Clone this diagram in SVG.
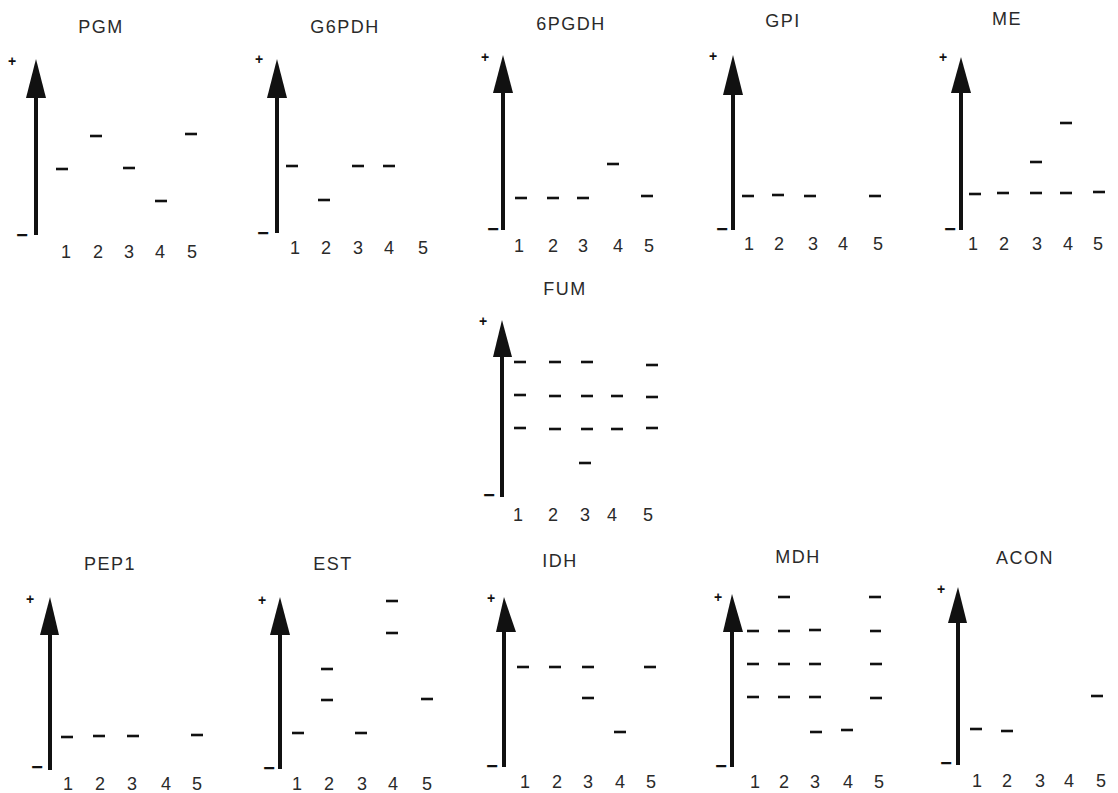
<svg xmlns="http://www.w3.org/2000/svg" width="1118" height="793" viewBox="0 0 1118 793">
<style>
.t{font-family:"Liberation Sans",Arial,sans-serif;font-size:18px;fill:#2a2a2a;text-anchor:middle;letter-spacing:1.5px}
.n{font-family:"Liberation Sans",Arial,sans-serif;font-size:18px;fill:#2a2a2a;text-anchor:middle}
.p{font-family:"Liberation Sans",Arial,sans-serif;font-size:14px;font-weight:bold;fill:#111;text-anchor:middle}
.m{font-family:"Liberation Sans",Arial,sans-serif;font-size:20px;font-weight:bold;fill:#111;text-anchor:middle}
.s{stroke:#111;stroke-width:4;fill:none}
.h{fill:#111}
.b{stroke:#111;stroke-width:2.6}
</style>
<rect width="1118" height="793" fill="#fff"/>

<g id="PGM">
<text class="t" x="101" y="33">PGM</text>
<line class="s" x1="36" y1="235" x2="36" y2="95"/>
<polygon class="h" points="36,59 26,98 46,98"/>
<text class="p" x="12" y="66">+</text>
<text class="m" x="22" y="242">−</text>
<text class="n" x="66" y="258">1</text><text class="n" x="98" y="258">2</text><text class="n" x="129" y="258">3</text><text class="n" x="160" y="258">4</text><text class="n" x="192" y="258">5</text>
<line class="b" x1="56" y1="169" x2="68" y2="169"/>
<line class="b" x1="90" y1="136" x2="102" y2="136"/>
<line class="b" x1="123" y1="168" x2="135" y2="168"/>
<line class="b" x1="155" y1="201" x2="167" y2="201"/>
<line class="b" x1="185" y1="134" x2="197" y2="134"/>
</g>

<g id="G6PDH">
<text class="t" x="345" y="33">G6PDH</text>
<line class="s" x1="277" y1="233" x2="277" y2="95"/>
<polygon class="h" points="277,59 267,98 287,98"/>
<text class="p" x="259" y="64">+</text>
<text class="m" x="263" y="240">−</text>
<text class="n" x="295" y="254">1</text><text class="n" x="326" y="254">2</text><text class="n" x="358" y="254">3</text><text class="n" x="389" y="254">4</text><text class="n" x="423" y="254">5</text>
<line class="b" x1="286" y1="166" x2="298" y2="166"/>
<line class="b" x1="318" y1="200" x2="330" y2="200"/>
<line class="b" x1="352" y1="166" x2="364" y2="166"/>
<line class="b" x1="383" y1="166" x2="395" y2="166"/>
</g>

<g id="6PGDH">
<text class="t" x="571" y="30">6PGDH</text>
<line class="s" x1="503" y1="230" x2="503" y2="90"/>
<polygon class="h" points="503,55 493,93 513,93"/>
<text class="p" x="485" y="62">+</text>
<text class="m" x="493" y="236">−</text>
<text class="n" x="519" y="252">1</text><text class="n" x="553" y="252">2</text><text class="n" x="583" y="252">3</text><text class="n" x="618" y="252">4</text><text class="n" x="649" y="252">5</text>
<line class="b" x1="515" y1="198" x2="527" y2="198"/>
<line class="b" x1="547" y1="198" x2="559" y2="198"/>
<line class="b" x1="577" y1="198" x2="589" y2="198"/>
<line class="b" x1="607" y1="164" x2="619" y2="164"/>
<line class="b" x1="641" y1="196" x2="653" y2="196"/>
</g>

<g id="GPI">
<text class="t" x="783" y="27">GPI</text>
<line class="s" x1="733" y1="230" x2="733" y2="92"/>
<polygon class="h" points="733,55 723,95 743,95"/>
<text class="p" x="713" y="61">+</text>
<text class="m" x="722" y="236">−</text>
<text class="n" x="749" y="250">1</text><text class="n" x="779" y="250">2</text><text class="n" x="813" y="250">3</text><text class="n" x="843" y="250">4</text><text class="n" x="878" y="250">5</text>
<line class="b" x1="742" y1="196" x2="754" y2="196"/>
<line class="b" x1="772" y1="195" x2="784" y2="195"/>
<line class="b" x1="804" y1="196" x2="816" y2="196"/>
<line class="b" x1="869" y1="196" x2="881" y2="196"/>
</g>

<g id="ME">
<text class="t" x="1007" y="25">ME</text>
<line class="s" x1="961" y1="230" x2="961" y2="90"/>
<polygon class="h" points="961,57 951,93 971,93"/>
<text class="p" x="943" y="62">+</text>
<text class="m" x="950" y="236">−</text>
<text class="n" x="973" y="250">1</text><text class="n" x="1004" y="250">2</text><text class="n" x="1037" y="250">3</text><text class="n" x="1068" y="250">4</text><text class="n" x="1098" y="250">5</text>
<line class="b" x1="969" y1="194" x2="981" y2="194"/>
<line class="b" x1="997" y1="193" x2="1009" y2="193"/>
<line class="b" x1="1030" y1="193" x2="1042" y2="193"/>
<line class="b" x1="1060" y1="193" x2="1072" y2="193"/>
<line class="b" x1="1093" y1="192" x2="1105" y2="192"/>
<line class="b" x1="1030" y1="162" x2="1042" y2="162"/>
<line class="b" x1="1060" y1="123" x2="1072" y2="123"/>
</g>

<g id="FUM">
<text class="t" x="565" y="295">FUM</text>
<line class="s" x1="502" y1="497" x2="502" y2="354"/>
<polygon class="h" points="502,320 493,357 512,357"/>
<text class="p" x="483" y="326">+</text>
<text class="m" x="489" y="502">−</text>
<text class="n" x="518" y="521">1</text><text class="n" x="553" y="521">2</text><text class="n" x="585" y="521">3</text><text class="n" x="612" y="521">4</text><text class="n" x="648" y="521">5</text>
<line class="b" x1="514" y1="362" x2="526" y2="362"/>
<line class="b" x1="549" y1="362" x2="561" y2="362"/>
<line class="b" x1="581" y1="362" x2="593" y2="362"/>
<line class="b" x1="646" y1="365" x2="658" y2="365"/>
<line class="b" x1="514" y1="395" x2="526" y2="395"/>
<line class="b" x1="549" y1="396" x2="561" y2="396"/>
<line class="b" x1="581" y1="396" x2="593" y2="396"/>
<line class="b" x1="611" y1="396" x2="623" y2="396"/>
<line class="b" x1="646" y1="397" x2="658" y2="397"/>
<line class="b" x1="514" y1="428" x2="526" y2="428"/>
<line class="b" x1="549" y1="429" x2="561" y2="429"/>
<line class="b" x1="581" y1="429" x2="593" y2="429"/>
<line class="b" x1="611" y1="429" x2="623" y2="429"/>
<line class="b" x1="646" y1="428" x2="658" y2="428"/>
<line class="b" x1="579" y1="463" x2="591" y2="463"/>
</g>

<g id="PEP1">
<text class="t" x="110" y="570">PEP1</text>
<line class="s" x1="50" y1="770" x2="50" y2="632"/>
<polygon class="h" points="50,597 40,635 59,635"/>
<text class="p" x="30" y="604">+</text>
<text class="m" x="37" y="774">−</text>
<text class="n" x="68" y="790">1</text><text class="n" x="100" y="790">2</text><text class="n" x="132" y="790">3</text><text class="n" x="166" y="790">4</text><text class="n" x="197" y="790">5</text>
<line class="b" x1="61" y1="737" x2="73" y2="737"/>
<line class="b" x1="93" y1="736" x2="105" y2="736"/>
<line class="b" x1="127" y1="736" x2="139" y2="736"/>
<line class="b" x1="191" y1="735" x2="203" y2="735"/>
</g>

<g id="EST">
<text class="t" x="333" y="570">EST</text>
<line class="s" x1="280" y1="769" x2="280" y2="632"/>
<polygon class="h" points="280,597 270,635 290,635"/>
<text class="p" x="262" y="605">+</text>
<text class="m" x="269" y="775">−</text>
<text class="n" x="297" y="790">1</text><text class="n" x="329" y="790">2</text><text class="n" x="362" y="790">3</text><text class="n" x="393" y="790">4</text><text class="n" x="427" y="790">5</text>
<line class="b" x1="292" y1="733" x2="304" y2="733"/>
<line class="b" x1="321" y1="669" x2="333" y2="669"/>
<line class="b" x1="321" y1="700" x2="333" y2="700"/>
<line class="b" x1="355" y1="733" x2="367" y2="733"/>
<line class="b" x1="386" y1="601" x2="398" y2="601"/>
<line class="b" x1="386" y1="633" x2="398" y2="633"/>
<line class="b" x1="421" y1="699" x2="433" y2="699"/>
</g>

<g id="IDH">
<text class="t" x="560" y="567">IDH</text>
<line class="s" x1="504" y1="767" x2="504" y2="629"/>
<polygon class="h" points="504,597 496,632 516,632"/>
<text class="p" x="491" y="603">+</text>
<text class="m" x="492" y="773">−</text>
<text class="n" x="525" y="788">1</text><text class="n" x="557" y="788">2</text><text class="n" x="588" y="788">3</text><text class="n" x="620" y="788">4</text><text class="n" x="651" y="788">5</text>
<line class="b" x1="517" y1="667" x2="529" y2="667"/>
<line class="b" x1="549" y1="667" x2="561" y2="667"/>
<line class="b" x1="582" y1="667" x2="594" y2="667"/>
<line class="b" x1="644" y1="667" x2="656" y2="667"/>
<line class="b" x1="582" y1="698" x2="594" y2="698"/>
<line class="b" x1="614" y1="732" x2="626" y2="732"/>
</g>

<g id="MDH">
<text class="t" x="798" y="563">MDH</text>
<line class="s" x1="732" y1="767" x2="732" y2="629"/>
<polygon class="h" points="732,594 723,632 743,632"/>
<text class="p" x="718" y="602">+</text>
<text class="m" x="721" y="773">−</text>
<text class="n" x="755" y="788">1</text><text class="n" x="784" y="788">2</text><text class="n" x="815" y="788">3</text><text class="n" x="848" y="788">4</text><text class="n" x="879" y="788">5</text>
<line class="b" x1="747" y1="631" x2="759" y2="631"/>
<line class="b" x1="747" y1="664" x2="759" y2="664"/>
<line class="b" x1="747" y1="697" x2="759" y2="697"/>
<line class="b" x1="778" y1="597" x2="790" y2="597"/>
<line class="b" x1="778" y1="631" x2="790" y2="631"/>
<line class="b" x1="778" y1="664" x2="790" y2="664"/>
<line class="b" x1="778" y1="697" x2="790" y2="697"/>
<line class="b" x1="809" y1="630" x2="821" y2="630"/>
<line class="b" x1="809" y1="664" x2="821" y2="664"/>
<line class="b" x1="809" y1="697" x2="821" y2="697"/>
<line class="b" x1="810" y1="732" x2="822" y2="732"/>
<line class="b" x1="841" y1="730" x2="853" y2="730"/>
<line class="b" x1="869" y1="597" x2="881" y2="597"/>
<line class="b" x1="870" y1="631" x2="881" y2="631"/>
<line class="b" x1="870" y1="664" x2="882" y2="664"/>
<line class="b" x1="870" y1="698" x2="882" y2="698"/>
</g>

<g id="ACON">
<text class="t" x="1025" y="564">ACON</text>
<line class="s" x1="958" y1="765" x2="958" y2="620"/>
<polygon class="h" points="958,587 948,623 967,623"/>
<text class="p" x="941" y="594">+</text>
<text class="m" x="946" y="770">−</text>
<text class="n" x="977" y="787">1</text><text class="n" x="1007" y="787">2</text><text class="n" x="1040" y="787">3</text><text class="n" x="1069" y="787">4</text><text class="n" x="1101" y="787">5</text>
<line class="b" x1="970" y1="729" x2="982" y2="729"/>
<line class="b" x1="1001" y1="731" x2="1013" y2="731"/>
<line class="b" x1="1091" y1="696" x2="1103" y2="696"/>
</g>

<g id="connectors"></g>
</svg>
